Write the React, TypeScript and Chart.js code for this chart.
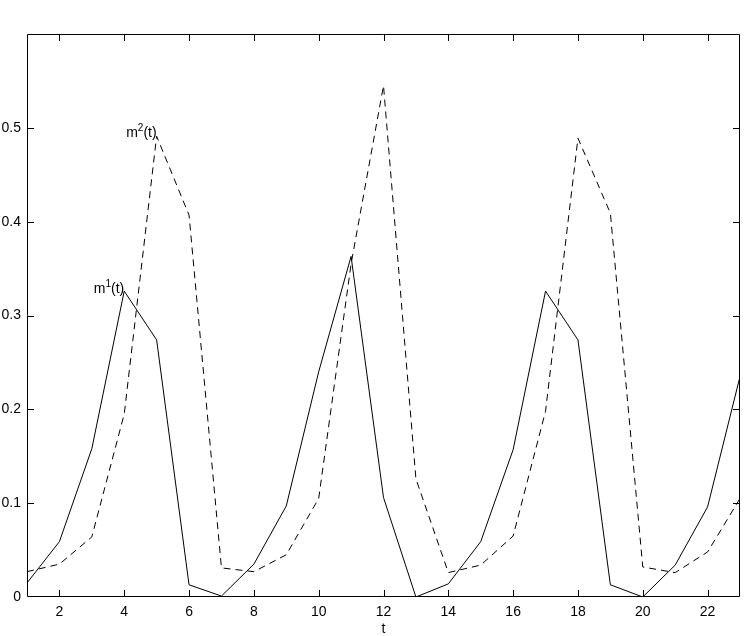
import { useEffect, useRef } from 'react'
import { Chart, registerables } from 'chart.js'
import type { Plugin } from 'chart.js'

Chart.register(...registerables)

// time steps and the two series
const tValues = [1, 2, 3, 4, 5, 6, 7, 8, 9, 10, 11, 12, 13, 14, 15, 16, 17, 18, 19, 20, 21, 22, 23]
const m1 = [0.015, 0.059, 0.158, 0.326, 0.274, 0.013, 0.001, 0.035, 0.097, 0.240, 0.363, 0.106,
  0.000, 0.014, 0.059, 0.157, 0.326, 0.274, 0.013, 0.000, 0.034, 0.096, 0.235]
const m2 = [0.027, 0.035, 0.064, 0.195, 0.491, 0.407, 0.031, 0.027, 0.045, 0.105, 0.355, 0.545,
  0.126, 0.026, 0.034, 0.065, 0.198, 0.489, 0.409, 0.032, 0.026, 0.048, 0.105]

const xTicks = [2, 4, 6, 8, 10, 12, 14, 16, 18, 20, 22]
const yTicks = [0, 0.1, 0.2, 0.3, 0.4, 0.5]

// curve labels: [base, superscript, tail, x, y]
const curveLabels: [string, string, string, number, number][] = [
  ['m', '1', '(t)', 4, 0.324],
  ['m', '2', '(t)', 5, 0.49],
]

const FONT = '"Liberation Sans", Arial, Helvetica, sans-serif'

// matlab style box with inward ticks, the curve labels and the x label
const boxPlugin: Plugin<'line'> = {
  id: 'matlabBox',
  afterDraw(chart) {
    const { ctx, chartArea: a, scales } = chart
    const x = scales.x
    const y = scales.y
    const tick = 7
    ctx.save()
    ctx.strokeStyle = '#000'
    ctx.lineWidth = 1
    ctx.beginPath()
    ctx.rect(a.left + 0.5, a.top + 0.5, a.right - a.left - 1, a.bottom - a.top - 1)
    xTicks.forEach((v) => {
      const px = Math.round(x.getPixelForValue(v)) + 0.5
      ctx.moveTo(px, a.bottom)
      ctx.lineTo(px, a.bottom - tick)
      ctx.moveTo(px, a.top)
      ctx.lineTo(px, a.top + tick)
    })
    yTicks.forEach((v) => {
      if (v === 0) return
      const py = Math.round(y.getPixelForValue(v)) + 0.5
      ctx.moveTo(a.left, py)
      ctx.lineTo(a.left + tick, py)
      ctx.moveTo(a.right, py)
      ctx.lineTo(a.right - tick, py)
    })
    ctx.stroke()

    ctx.fillStyle = '#000'
    ctx.textBaseline = 'alphabetic'
    curveLabels.forEach(([base, sup, tail, tx, ty]) => {
      const px = x.getPixelForValue(tx)
      const py = y.getPixelForValue(ty)
      ctx.font = `14px ${FONT}`
      const wBase = ctx.measureText(base).width
      const wTail = ctx.measureText(tail).width
      ctx.font = `10px ${FONT}`
      const wSup = ctx.measureText(sup).width
      let cx = px - (wBase + wSup + wTail)
      ctx.textAlign = 'left'
      ctx.font = `14px ${FONT}`
      ctx.fillText(base, cx, py)
      cx += wBase
      ctx.font = `10px ${FONT}`
      ctx.fillText(sup, cx, py - 6)
      cx += wSup
      ctx.font = `14px ${FONT}`
      ctx.fillText(tail, cx, py)
    })

    ctx.font = `14px ${FONT}`
    ctx.textAlign = 'center'
    ctx.fillText('t', (a.left + a.right) / 2, 633)
    ctx.restore()
  },
}

export default function App() {
  const canvasRef = useRef<HTMLCanvasElement>(null)
  const chartRef = useRef<Chart<'line'> | null>(null)

  useEffect(() => {
    if (!canvasRef.current) return
    if (chartRef.current) chartRef.current.destroy()

    chartRef.current = new Chart(canvasRef.current, {
      type: 'line',
      data: {
        datasets: [
          {
            label: 'm1(t)',
            data: tValues.map((t, i) => ({ x: t, y: m1[i] })),
            borderColor: '#000',
            borderWidth: 1,
            pointRadius: 0,
            tension: 0,
            fill: false,
          },
          {
            label: 'm2(t)',
            data: tValues.map((t, i) => ({ x: t, y: m2[i] })),
            borderColor: '#000',
            borderWidth: 1,
            borderDash: [7, 5],
            pointRadius: 0,
            tension: 0,
            fill: false,
          },
        ],
      },
      options: {
        responsive: false,
        animation: false,
        devicePixelRatio: 1,
        layout: { padding: { top: 34, right: 7, left: 0, bottom: 0 } },
        plugins: {
          legend: { display: false },
          tooltip: { enabled: false },
        },
        scales: {
          x: {
            type: 'linear',
            min: 1,
            max: 23,
            grid: { display: false, drawTicks: false },
            border: { display: false },
            afterBuildTicks: (scale) => {
              scale.ticks = xTicks.map((v) => ({ value: v }))
            },
            afterFit: (scale) => {
              scale.height = 39
            },
            ticks: {
              padding: 7,
              color: '#000',
              maxRotation: 0,
              font: { family: FONT, size: 14 },
            },
          },
          y: {
            type: 'linear',
            min: 0,
            max: 0.6,
            grid: { display: false, drawTicks: false },
            border: { display: false },
            afterBuildTicks: (scale) => {
              scale.ticks = yTicks.map((v) => ({ value: v }))
            },
            afterFit: (scale) => {
              scale.width = 27
            },
            ticks: {
              padding: 6,
              color: '#000',
              font: { family: FONT, size: 14 },
              callback: (v) => String(Math.round(Number(v) * 10) / 10),
            },
          },
        },
      },
      plugins: [boxPlugin],
    })

    return () => {
      if (chartRef.current) {
        chartRef.current.destroy()
        chartRef.current = null
      }
    }
  }, [])

  return (
    <div style={{ position: 'fixed', left: 0, top: 0, width: 747, height: 636, background: '#fff' }}>
      <canvas ref={canvasRef} width={747} height={636} />
    </div>
  )
}
